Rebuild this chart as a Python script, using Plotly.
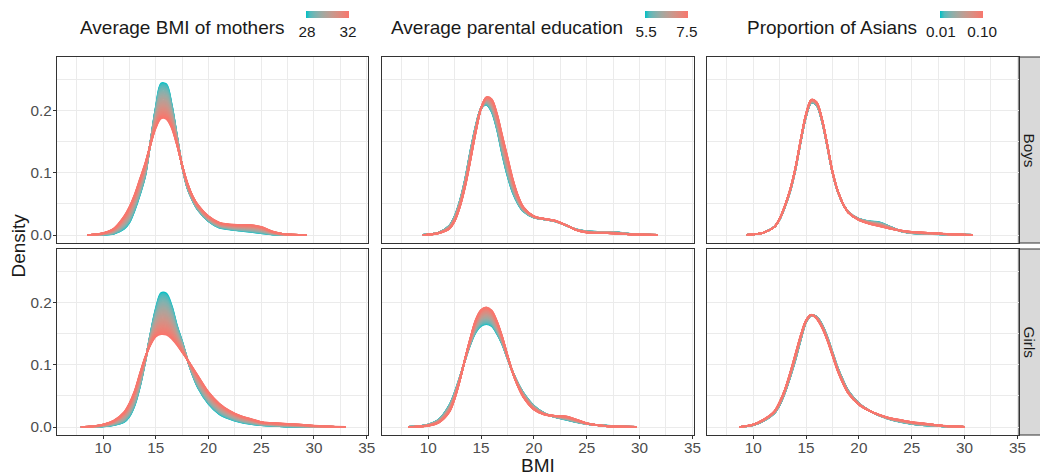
import numpy as np
import plotly.graph_objects as go

W, H = 1040, 476

# ---------------- data ----------------
row_labels = ["Boys", "Girls"]
legend_titles = ["Average BMI of mothers", "Average parental education", "Proportion of Asians"]
legend_tickvals = [[28, 32], [5.5, 7.5], [0.01, 0.10]]
legend_ticktext = [["28", "32"], ["5.5", "7.5"], ["0.01", "0.10"]]
legend_ranges = [[27.9, 32.1], [5.45, 7.55], [0.008, 0.102]]

x_ticks = [10, 15, 20, 25, 30, 35]
y_ticks = [0.0, 0.1, 0.2]
y_ticktext = ["0.0", "0.1", "0.2"]

# Boys - average BMI of mothers (low = 28, high = 32)
boys_mbmi_x = [8.5, 9, 10, 11, 12, 12.5, 13, 13.5, 14, 14.5, 15, 15.5, 16, 16.5, 17, 17.5, 18, 18.5, 19, 20, 21, 22, 23, 24, 25, 26, 27, 28, 29.3]
boys_mbmi_low = [0, 0, 0.0005, 0.002, 0.01, 0.02, 0.04, 0.065, 0.095, 0.15, 0.205, 0.243, 0.242, 0.21, 0.16, 0.11, 0.075, 0.055, 0.04, 0.022, 0.012, 0.009, 0.007, 0.005, 0.003, 0.001, 0.0003, 0, 0]
boys_mbmi_high = [0, 0.0005, 0.003, 0.01, 0.03, 0.045, 0.065, 0.09, 0.115, 0.145, 0.172, 0.187, 0.186, 0.172, 0.145, 0.112, 0.083, 0.062, 0.048, 0.03, 0.02, 0.017, 0.016, 0.016, 0.013, 0.006, 0.002, 0.0005, 0]

# Girls - average BMI of mothers
girls_mbmi_x = [7.9, 9, 10, 11, 12, 12.5, 13, 13.5, 14, 14.5, 15, 15.5, 16, 16.5, 17, 17.5, 18, 18.5, 19, 20, 21, 22, 23, 24, 25, 26, 27, 28, 29, 30, 31, 32, 33]
girls_mbmi_low = [0, 0.0003, 0.001, 0.003, 0.008, 0.017, 0.035, 0.065, 0.105, 0.15, 0.19, 0.215, 0.214, 0.195, 0.163, 0.137, 0.108, 0.083, 0.063, 0.037, 0.021, 0.013, 0.008, 0.005, 0.003, 0.002, 0.001, 0.0005, 0.0002, 0, 0, 0, 0]
girls_mbmi_high = [0, 0.001, 0.004, 0.01, 0.024, 0.038, 0.058, 0.086, 0.112, 0.132, 0.145, 0.149, 0.148, 0.142, 0.132, 0.12, 0.108, 0.095, 0.082, 0.056, 0.038, 0.026, 0.018, 0.013, 0.008, 0.0065, 0.0055, 0.0045, 0.0035, 0.002, 0.001, 0.0004, 0]

# Boys - average parental education (low = 5.5, high = 7.5)
boys_edu_x = [9.5, 10, 11, 12, 12.5, 13, 13.5, 14, 14.5, 15, 15.5, 16, 16.5, 17, 17.5, 18, 18.5, 19, 20, 21, 22, 23, 24, 25, 26, 27, 28, 29, 30, 31.7]
boys_edu_low = [0, 0.001, 0.004, 0.015, 0.03, 0.055, 0.09, 0.135, 0.175, 0.203, 0.209, 0.198, 0.17, 0.13, 0.095, 0.068, 0.05, 0.038, 0.028, 0.025, 0.022, 0.016, 0.009, 0.006, 0.005, 0.005, 0.004, 0.002, 0.001, 0]
boys_edu_high = [0, 0.0005, 0.003, 0.01, 0.022, 0.045, 0.078, 0.12, 0.165, 0.203, 0.221, 0.218, 0.195, 0.16, 0.125, 0.09, 0.063, 0.045, 0.03, 0.026, 0.023, 0.016, 0.008, 0.004, 0.003, 0.003, 0.002, 0.001, 0.0005, 0]

# Girls - average parental education
girls_edu_x = [8.1, 9, 10, 11, 12, 12.5, 13, 13.5, 14, 14.5, 15, 15.5, 16, 16.5, 17, 17.5, 18, 18.5, 19, 20, 21, 22, 23, 24, 25, 26, 27, 28, 29.7]
girls_edu_low = [0, 0.001, 0.004, 0.012, 0.035, 0.055, 0.08, 0.108, 0.133, 0.152, 0.162, 0.165, 0.162, 0.15, 0.133, 0.11, 0.088, 0.07, 0.055, 0.034, 0.022, 0.016, 0.012, 0.008, 0.005, 0.003, 0.002, 0.001, 0]
girls_edu_high = [0, 0.0005, 0.002, 0.007, 0.024, 0.045, 0.075, 0.11, 0.143, 0.172, 0.188, 0.192, 0.187, 0.17, 0.145, 0.115, 0.087, 0.065, 0.048, 0.028, 0.02, 0.018, 0.017, 0.012, 0.006, 0.003, 0.001, 0.0005, 0]

# Boys - proportion of Asians (low = 0.01, high = 0.10)
boys_asian_x = [9.4, 10, 11, 12, 12.5, 13, 13.5, 14, 14.5, 15, 15.5, 16, 16.5, 17, 17.5, 18, 18.5, 19, 20, 21, 22, 23, 24, 25, 26, 27, 28, 29, 30.8]
boys_asian_low = [0, 0.001, 0.004, 0.013, 0.025, 0.045, 0.07, 0.105, 0.15, 0.19, 0.212, 0.208, 0.183, 0.143, 0.1, 0.07, 0.05, 0.037, 0.026, 0.022, 0.02, 0.013, 0.006, 0.003, 0.002, 0.0015, 0.001, 0.0005, 0]
boys_asian_high = [0, 0.001, 0.004, 0.013, 0.026, 0.047, 0.073, 0.108, 0.153, 0.194, 0.217, 0.213, 0.187, 0.146, 0.102, 0.071, 0.05, 0.036, 0.024, 0.018, 0.014, 0.01, 0.007, 0.005, 0.004, 0.003, 0.002, 0.001, 0]

# Girls - proportion of Asians
girls_asian_x = [8.7, 9, 10, 11, 12, 12.5, 13, 13.5, 14, 14.5, 15, 15.5, 16, 16.5, 17, 17.5, 18, 18.5, 19, 20, 21, 22, 23, 24, 25, 26, 27, 28, 29, 30]
girls_asian_low = [0, 0.0005, 0.003, 0.01, 0.022, 0.035, 0.055, 0.08, 0.108, 0.14, 0.168, 0.179, 0.177, 0.165, 0.145, 0.12, 0.095, 0.075, 0.058, 0.038, 0.026, 0.018, 0.012, 0.008, 0.005, 0.003, 0.002, 0.001, 0.0005, 0]
girls_asian_high = [0, 0.0008, 0.004, 0.012, 0.025, 0.04, 0.06, 0.087, 0.117, 0.147, 0.171, 0.18, 0.174, 0.16, 0.14, 0.115, 0.09, 0.07, 0.054, 0.036, 0.026, 0.019, 0.014, 0.011, 0.008, 0.006, 0.004, 0.002, 0.001, 0]

panels = [
    (0, 0, boys_mbmi_x, boys_mbmi_low, boys_mbmi_high),
    (0, 1, boys_edu_x, boys_edu_low, boys_edu_high),
    (0, 2, boys_asian_x, boys_asian_low, boys_asian_high),
    (1, 0, girls_mbmi_x, girls_mbmi_low, girls_mbmi_high),
    (1, 1, girls_edu_x, girls_edu_low, girls_edu_high),
    (1, 2, girls_asian_x, girls_asian_low, girls_asian_high),
]

# ---------------- colour helpers (ggplot-like Lab gradient) ----------------
LOW_COL, HIGH_COL = "#00BFC4", "#F8766D"


def _lin(c):
    c = c / 255.0
    return c / 12.92 if c <= 0.04045 else ((c + 0.055) / 1.055) ** 2.4


def hex_to_lab(h):
    r, g, b = [_lin(int(h[i:i + 2], 16)) for i in (1, 3, 5)]
    X = (0.4124 * r + 0.3576 * g + 0.1805 * b) / 0.95047
    Y = 0.2126 * r + 0.7152 * g + 0.0722 * b
    Z = (0.0193 * r + 0.1192 * g + 0.9505 * b) / 1.08883
    f = lambda t: t ** (1 / 3) if t > 0.008856 else 7.787 * t + 16 / 116
    fx, fy, fz = f(X), f(Y), f(Z)
    return (116 * fy - 16, 500 * (fx - fy), 200 * (fy - fz))


def lab_to_hex(L, a, b):
    fy = (L + 16) / 116
    fx = fy + a / 500
    fz = fy - b / 200
    finv = lambda t: t ** 3 if t ** 3 > 0.008856 else (t - 16 / 116) / 7.787
    X, Y, Z = finv(fx) * 0.95047, finv(fy), finv(fz) * 1.08883
    r = 3.2406 * X - 1.5372 * Y - 0.4986 * Z
    g = -0.9689 * X + 1.8758 * Y + 0.0415 * Z
    bb = 0.0557 * X - 0.2040 * Y + 1.0570 * Z

    def enc(c):
        c = min(max(c, 0.0), 1.0)
        c = 12.92 * c if c <= 0.0031308 else 1.055 * c ** (1 / 2.4) - 0.055
        return int(round(c * 255))
    return "#%02x%02x%02x" % (enc(r), enc(g), enc(bb))


LAB_LO, LAB_HI = hex_to_lab(LOW_COL), hex_to_lab(HIGH_COL)


def mix(t):
    return lab_to_hex(*[(1 - t) * p + t * q for p, q in zip(LAB_LO, LAB_HI)])


colorscale = [[float(t), mix(t)] for t in np.linspace(0, 1, 11)]

# ---------------- layout geometry ----------------
col_px = [(57.3, 368.3), (382.3, 694.0), (707.3, 1019.0)]
row_px = [(57.0, 243.0), (249.0, 435.0)]
X_RANGE = [5.66, 35.15]
Y_RANGE = [-0.0128, 0.2855]
FONT = "Liberation Sans, Arial, Helvetica, sans-serif"
TICK_SIZE = 15.3
TITLE_SIZE = 19
N_CURVES = 40

fig = go.Figure()
layout = dict(
    width=W, height=H, margin=dict(l=0, r=0, t=0, b=0, autoexpand=False), autosize=False,
    paper_bgcolor="white", plot_bgcolor="white", showlegend=False,
    font=dict(family=FONT, color="#1A1A1A"),
)

for r, c, xs, lo, hi in panels:
    k = r * 3 + c + 1
    xa = "x" if k == 1 else f"x{k}"
    ya = "y" if k == 1 else f"y{k}"
    lo_a, hi_a = np.array(lo), np.array(hi)
    for t in np.linspace(0, 1, N_CURVES):
        fig.add_trace(go.Scatter(
            x=xs, y=(1 - t) * lo_a + t * hi_a, mode="lines",
            line=dict(color=mix(t), width=1.8, shape="spline", smoothing=0.9),
            xaxis=xa, yaxis=ya, hoverinfo="skip", showlegend=False))
    x0, x1 = col_px[c]
    y0, y1 = row_px[r]
    bottom = r == 1
    left = c == 0
    layout["xaxis" if k == 1 else f"xaxis{k}"] = dict(
        domain=[x0 / W, x1 / W], anchor=ya, range=X_RANGE,
        tickvals=x_ticks, showticklabels=bottom,
        ticks="outside" if bottom else "", ticklen=3, tickcolor="#333333", tickwidth=1,
        ticklabelstandoff=-4,
        tickfont=dict(family=FONT, size=TICK_SIZE, color="#4D4D4D"),
        showgrid=True, gridcolor="#EBEBEB", gridwidth=1.1,
        minor=dict(tickvals=[7.5, 12.5, 17.5, 22.5, 27.5, 32.5], showgrid=True,
                   gridcolor="#EBEBEB", gridwidth=0.55, ticks=""),
        zeroline=False, showline=True, mirror=True, linecolor="#333333", linewidth=1.1,
    )
    layout["yaxis" if k == 1 else f"yaxis{k}"] = dict(
        domain=[1 - y1 / H, 1 - y0 / H], anchor=xa, range=Y_RANGE,
        tickvals=y_ticks, ticktext=y_ticktext, showticklabels=left,
        ticks="outside" if left else "", ticklen=3.5, tickcolor="#333333", tickwidth=1,
        ticklabelstandoff=-2,
        tickfont=dict(family=FONT, size=TICK_SIZE, color="#4D4D4D"),
        showgrid=True, gridcolor="#EBEBEB", gridwidth=1.1,
        minor=dict(tickvals=[0.05, 0.15, 0.25], showgrid=True,
                   gridcolor="#EBEBEB", gridwidth=0.55, ticks=""),
        zeroline=False, showline=True, mirror=True, linecolor="#333333", linewidth=1.1,
    )

# colour bars (one per column)
bar_px = [(306, 349), (645, 688), (940, 983)]
for i in range(3):
    ca = "coloraxis" if i == 0 else f"coloraxis{i + 1}"
    fig.add_trace(go.Scatter(
        x=[20], y=[0.1], mode="markers", xaxis="x", yaxis="y",
        marker=dict(color=[legend_ranges[i][0]], coloraxis=ca, size=1, opacity=0),
        hoverinfo="skip", showlegend=False))
    bx0, bx1 = bar_px[i]
    layout[ca] = dict(
        colorscale=colorscale, cmin=legend_ranges[i][0], cmax=legend_ranges[i][1],
        colorbar=dict(
            orientation="h", x=(bx0 + bx1) / 2 / W, xanchor="center",
            y=1 - 10.7 / H, yanchor="top", len=bx1 - bx0, lenmode="pixels",
            thickness=7, thicknessmode="pixels", outlinewidth=0, borderwidth=0,
            xpad=0, ypad=0, tickvals=legend_tickvals[i], ticktext=legend_ticktext[i],
            ticks="", tickfont=dict(family=FONT, size=TICK_SIZE, color="#1A1A1A"),
        ),
    )

shapes = []
annotations = []
# strips
for r in range(2):
    y0, y1 = row_px[r]
    shapes.append(dict(type="rect", xref="paper", yref="paper",
                       x0=1019.0 / W, x1=1046.0 / W, y0=1 - y1 / H, y1=1 - y0 / H,
                       fillcolor="#D9D9D9", line=dict(color="#333333", width=1.1), layer="below"))
    annotations.append(dict(text=row_labels[r], xref="paper", yref="paper",
                            x=1029.5 / W, y=1 - (y0 + y1) / 2 / H, showarrow=False,
                            textangle=90, xanchor="center", yanchor="middle",
                            font=dict(family=FONT, size=TICK_SIZE, color="#1A1A1A")))

# legend titles
title_left = [78, 389, 745]
for i in range(3):
    annotations.append(dict(text=legend_titles[i], xref="paper", yref="paper",
                            x=title_left[i] / W, y=1 - 27 / H, showarrow=False,
                            xanchor="left", yanchor="middle",
                            font=dict(family=FONT, size=TITLE_SIZE, color="#1A1A1A")))

# axis titles
annotations.append(dict(text="BMI", xref="paper", yref="paper", x=538 / W, y=1 - 465 / H,
                        showarrow=False, xanchor="center", yanchor="middle",
                        font=dict(family=FONT, size=TITLE_SIZE, color="#1A1A1A")))
annotations.append(dict(text="Density", xref="paper", yref="paper", x=17.5 / W, y=1 - 246 / H,
                        showarrow=False, xanchor="center", yanchor="middle", textangle=-90,
                        font=dict(family=FONT, size=TITLE_SIZE, color="#1A1A1A")))

layout["shapes"] = shapes
layout["annotations"] = annotations
fig.update_layout(**layout)
fig.write_html("out.html",
               post_script="document.body.style.margin='0';document.body.style.overflow='hidden';")
